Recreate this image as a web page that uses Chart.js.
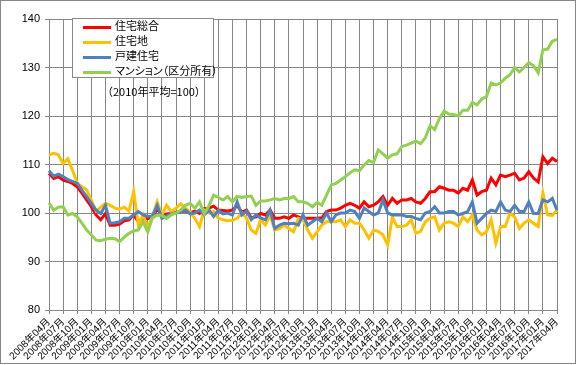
<!DOCTYPE html>
<html>
<head>
<meta charset="utf-8">
<script src="https://cdn.jsdelivr.net/npm/chart.js@4.4.1/dist/chart.umd.min.js"></script>
<style>
  body { margin: 0; background: #fff; }
  #wrap { position: relative; width: 577px; height: 365px; }
  #legend {
    position: absolute; left: 72px; top: 18px; width: 140px; height: 58px;
    border: 1px solid #888; background: #fff;
    font: 11px 'Noto Sans CJK JP', sans-serif; color: #000;
    font-feature-settings: "palt";
  }
  #legend .row { position: absolute; left: 10px; height: 15px; line-height: 15px; white-space: nowrap; }
  #legend .swatch { display: inline-block; width: 28px; height: 3px; vertical-align: middle; margin-right: 4px; }
  #note { position: absolute; left: 102px; top: 83px; font: 11px 'Noto Sans CJK JP', sans-serif; color: #000; white-space: nowrap; }
</style>
</head>
<body>
<div id="wrap">
  <canvas id="chart" width="577" height="365"></canvas>
  <div id="legend"></div>
  <div id="note">（2010年平均=100）</div>
</div>
<script>
// month labels 2008年04月 .. 2017年04月
const months = [];
for (let y = 2008, m = 4; y < 2017 || (y === 2017 && m <= 4); m++) {
  if (m > 12) { m = 1; y++; }
  months.push(y + '年' + String(m).padStart(2, '0') + '月');
}

const yTicks = [80, 90, 100, 110, 120, 130, 140];

// 住宅総合
const sogo = [
  108.2, 107.1, 107.5, 106.8, 106.5, 106.1, 105.4, 104.1, 102.7, 101.3,
  99.6, 98.6, 99.9, 97.5, 97.5, 97.7, 98.4, 98.6, 99.6, 98.2,
  98.9, 98.8, 99.2, 100.8, 99.6, 99.8, 99.9, 100.1, 100.3, 100.4,
  100.0, 100.4, 99.9, 100.9, 101.0, 101.4, 100.6, 100.5, 100.4, 100.6,
  101.5, 100.2, 100.6, 99.0, 99.2, 99.9, 99.6, 100.6, 98.9, 98.9,
  99.2, 98.9, 99.6, 99.2, 98.9, 98.9, 98.9, 98.9, 99.0, 100.3,
  100.6, 100.6, 101.0, 101.6, 102.0, 101.6, 101.0, 102.3, 101.3, 101.6,
  102.3, 103.4, 101.6, 103.0, 102.0, 102.7, 102.7, 103.0, 102.3, 102.0,
  103.0, 104.4, 104.4, 105.4, 105.1, 104.7, 104.7, 104.1, 105.1, 104.7,
  106.8, 103.7, 104.4, 104.7, 107.2, 105.8, 107.8, 107.5, 107.8, 108.2,
  106.8, 107.2, 108.5, 107.2, 106.4, 111.6, 110.2, 111.3, 110.6
];

// 住宅地
const takuchi = [
  112.0, 112.3, 112.0, 110.2, 111.2, 108.8, 106.2, 105.4, 104.8, 102.6,
  100.4, 101.2, 102.0, 101.6, 101.0, 100.8, 101.2, 100.4, 104.4, 97.5,
  99.6, 97.0, 99.3, 102.3, 99.6, 101.6, 100.3, 101.0, 101.9, 101.0,
  100.2, 98.9, 97.2, 100.6, 100.0, 100.3, 98.9, 98.6, 98.4, 98.5,
  98.9, 100.0, 98.9, 96.5, 95.8, 98.6, 97.5, 99.6, 96.5, 96.8,
  97.5, 96.8, 96.1, 98.9, 98.6, 96.5, 94.8, 96.1, 97.5, 98.2,
  98.2, 98.2, 98.6, 97.2, 98.6, 97.9, 97.9, 96.5, 94.8, 96.5,
  96.2, 95.5, 93.4, 99.2, 97.2, 97.2, 97.5, 98.6, 95.8, 96.2,
  98.2, 98.9, 99.2, 96.5, 97.9, 98.2, 97.9, 97.2, 99.2, 98.2,
  99.6, 96.5, 95.5, 96.1, 98.6, 93.8, 97.2, 97.2, 100.0, 99.2,
  96.8, 97.9, 98.6, 97.9, 97.2, 104.1, 99.6, 99.5, 100.6
];

// 戸建住宅
const kodate = [
  108.7, 107.6, 108.0, 107.5, 106.9, 106.5, 106.1, 104.7, 103.4, 102.0,
  100.6, 99.9, 101.6, 97.9, 98.0, 98.2, 98.9, 98.9, 99.6, 100.3,
  99.6, 99.3, 99.4, 101.6, 98.9, 99.4, 99.8, 100.0, 100.2, 100.6,
  99.8, 100.0, 100.6, 99.6, 100.6, 99.3, 100.6, 99.8, 100.0, 99.6,
  102.3, 99.6, 100.4, 98.6, 99.6, 99.0, 98.6, 100.6, 96.8, 97.5,
  97.9, 97.8, 97.9, 97.5, 99.6, 97.5, 98.2, 98.9, 98.2, 100.0,
  98.2, 99.6, 100.0, 100.0, 100.6, 100.3, 98.9, 101.0, 100.3, 99.6,
  100.0, 102.7, 100.0, 99.6, 99.6, 99.6, 99.3, 99.3, 98.9, 98.6,
  100.0, 100.3, 101.3, 100.0, 100.0, 100.3, 100.3, 99.6, 99.9, 100.3,
  102.3, 97.9, 98.9, 99.9, 100.6, 100.3, 102.3, 100.6, 100.3, 101.6,
  100.3, 100.3, 102.3, 99.9, 99.9, 102.7, 102.3, 103.0, 100.6
];

// マンション（区分所有）
const mansion = [
  102.1, 100.6, 101.2, 101.3, 99.6, 99.9, 99.2, 97.9, 96.5, 95.5,
  94.4, 94.3, 94.6, 94.8, 94.7, 94.1, 95.0, 95.8, 96.3, 96.5,
  98.2, 96.1, 99.0, 99.6, 99.5, 98.9, 99.6, 100.0, 100.6, 101.6,
  102.0, 101.0, 102.3, 99.8, 101.5, 103.7, 103.2, 102.7, 103.4, 102.3,
  103.4, 103.2, 103.4, 103.5, 101.6, 102.5, 102.5, 102.7, 103.0, 102.7,
  103.0, 103.0, 103.4, 102.3, 102.3, 102.0, 101.3, 102.2, 101.6, 103.7,
  105.8, 106.1, 106.8, 107.5, 108.3, 108.9, 108.7, 109.9, 110.8, 110.4,
  113.0, 112.2, 111.3, 112.0, 112.2, 113.7, 114.0, 114.4, 114.8, 114.3,
  115.5, 118.0, 117.2, 119.5, 121.0, 120.4, 120.3, 120.0, 121.2, 121.2,
  122.8, 122.3, 123.5, 124.0, 126.8, 126.4, 126.8, 127.8, 128.5, 130.0,
  129.1, 130.0, 131.0, 130.4, 128.9, 133.6, 133.8, 135.4, 135.8
];

const seriesNames = ['住宅総合', '住宅地', '戸建住宅', 'マンション（区分所有）'];
const seriesColors = ['#ff0000', '#ffc000', '#4f81bd', '#92d050'];

const gridGray = '#868686';

// outer frame of the picture
const framePlugin = {
  id: 'frame',
  afterDraw(chart) {
    const ctx = chart.ctx;
    ctx.save();
    ctx.strokeStyle = gridGray;
    ctx.lineWidth = 1;
    ctx.strokeRect(0.5, 0.5, 575, 363);
    ctx.restore();
  }
};

const data = {
  labels: months,
  datasets: [sogo, takuchi, kodate, mansion].map((vals, i) => ({
    label: seriesNames[i],
    data: vals,
    borderColor: seriesColors[i],
    backgroundColor: seriesColors[i],
    borderWidth: 3,
    pointRadius: 0,
    tension: 0,
    order: 4 - i
  }))
};

Chart.defaults.font.family = "'Liberation Sans', 'Noto Sans CJK JP', sans-serif";
Chart.defaults.color = '#000';

new Chart(document.getElementById('chart'), {
  type: 'line',
  data: data,
  options: {
    responsive: false,
    animation: false,
    layout: { padding: { top: 19, right: 20, left: 0, bottom: 0 } },
    plugins: {
      legend: { display: false },
      tooltip: { enabled: false }
    },
    scales: {
      x: {
        offset: false,
        grid: { color: gridGray, tickLength: 4, drawTicks: true },
        border: { color: gridGray },
        ticks: {
          autoSkip: false,
          maxRotation: 45,
          minRotation: 45,
          padding: 2,
          font: { size: 10 },
          callback: function (v, i) { return i % 3 === 0 ? months[i] : null; }
        },
        afterFit: function (s) { s.height = 55; }
      },
      y: {
        min: yTicks[0],
        max: yTicks[yTicks.length - 1],
        grid: { color: gridGray, tickLength: 4 },
        border: { color: gridGray },
        ticks: { stepSize: 10, padding: 5, font: { size: 11 } },
        afterFit: function (s) { s.width = 49; }
      }
    }
  },
  plugins: [framePlugin]
});

// legend box
const legend = document.getElementById('legend');
seriesNames.forEach((name, i) => {
  const row = document.createElement('div');
  row.className = 'row';
  row.style.top = (-1 + i * 15) + 'px';
  row.innerHTML = '<span class="swatch" style="background:' + seriesColors[i] + '"></span>' + name;
  legend.appendChild(row);
});
</script>
</body>
</html>
